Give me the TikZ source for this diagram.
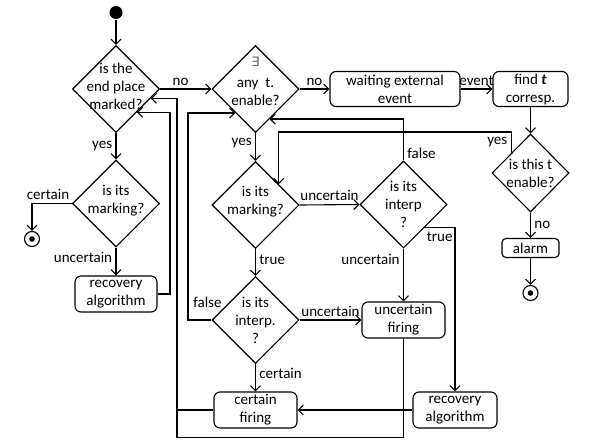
\documentclass[tikz,border=0pt]{standalone}
\usepackage{amsmath}
\usepackage{amssymb}
\usepackage{fontspec}
\setmainfont{Carlito}
\newfontfamily\symbolfont{DejaVu Sans}
\usetikzlibrary{shapes.geometric,arrows.meta}

\begin{document}
\begin{tikzpicture}[x=1pt,y=-1pt,line width=1.1pt,>={Straight Barb[length=5pt,width=10pt]}]
\tikzstyle{every node}=[font=\fontsize{15}{18}\selectfont,align=center]
\tikzstyle{decision}=[draw,diamond,inner sep=0pt,minimum width=87pt,minimum height=87pt]
\tikzstyle{activity}=[draw,rounded corners=6pt,inner sep=0pt,minimum height=36pt]
\tikzstyle{final}=[draw,circle,inner sep=0pt,minimum size=15pt,path picture={\fill (path picture bounding box.center) circle (2.8pt);}]

\useasboundingbox (0,0) rectangle (593,439);
\coordinate (bus1) at (170,0);
\coordinate (bus2) at (177,437.5);
\coordinate (bus3) at (188,0);
\coordinate (yesy) at (0,132);

\node[fill,circle,inner sep=0pt,minimum size=13pt] (start) at (116,12.5) {};
\node[decision] (d1) at (116,89) {};
\node (d1t) at ([yshift=3pt]d1.center) {is the\\end place\\marked?};
\node[decision] (d2) at (255.5,89) {};
\node (d2t) at ([yshift=8pt]d2.center) {{\color{black!60}\symbolfont\fontsize{13}{18}\selectfont ∃}\\[3pt]any\ \ t.\\enable?};
\node[activity,minimum width=130pt,minimum height=35pt] (b1) at (395,89) {waiting external\\event};
\node[activity,minimum width=75pt,minimum height=35pt] (b2) at (530.5,89) {find \textbf{\textit{t}}\\corresp.};
\node[decision,minimum width=77pt,minimum height=78pt] (d3) at (530.5,173) {};
\node (d3t) at (d3.center) {is this t\\enable?};
\node[activity,minimum width=57pt,minimum height=19pt,rounded corners=4pt] (alarm) at (530.5,248) {alarm};
\node[final] (endr) at (530.5,293) {};
\node[decision] (d4) at (116,203.5) {};
\node (d4t) at ([yshift=3pt]d4.center) {is its\\marking?};
\node[final] (endl) at (32,239) {};
\node[activity,minimum width=82pt] (rl) at (116,294) {recovery\\algorithm};
\node[decision] (d5) at (255.5,205) {};
\node (d5t) at ([yshift=3pt]d5.center) {is its\\marking?};
\node[decision] (d6) at (403.5,204.5) {};
\node (d6t) at (d6.center) {is its\\interp\\?};
\node[decision] (d7) at (255.5,320) {};
\node (d7t) at (d7.center) {is its\\interp.\\?};
\node[activity,minimum width=83pt] (uf) at (403.5,320) {uncertain\\firing};
\node[activity,minimum width=83pt] (cf) at (255.5,410) {certain\\firing};
\node[activity,minimum width=84pt] (rr) at (455,410) {recovery\\algorithm};

\draw[->] (start) -- (d1);
\draw[->] (d1.east) -- node[above,pos=0.4] {no} (d2.west);
\draw[->] (d1.south) -- node[left] {yes} (d4.north);
\draw[->] (d4.west) -| node[above,pos=0.3] {certain} (endl.north);
\draw[->] (d4.south) -- node[left,pos=0.35] {uncertain} (rl.north);
\draw[->] (rl.east) -- (rl.east -| bus1) |- (d1.-48);
\draw[->] (d2.east) -- node[above] {no} (b1.west);
\draw[->] (b1.east) -- node[above] {event} (b2.west);
\draw[->] (b2.south) -- (d3.north);
\draw[->] (d3.south) -- node[right] {no} (alarm.north);
\draw[->] (alarm.south) -- (endr.north);
\draw[->] (d3.134) -- node[left] {yes} (d3.134 |- yesy) -| (d5.42);
\draw[->] (d2.south) -- node[left,pos=0.35] {yes} (d5.north);
\draw[->] (d5.east) -- node[above] {uncertain} (d6.west);
\draw[->] (d5.south) -- node[right,pos=0.4] {true} (d7.north);
\draw[->] (d6.north) |- node[pos=0,above right,yshift=-2pt] {false} (d2.-65);
\draw[->] (d6.-48) -| node[below,pos=0.25] {true} (rr.north);
\draw[->] (d6.south) -- node[left,pos=0.2] {uncertain} (uf.north);
\draw[->] (d7.west) -- node[above left,pos=0,xshift=14pt,yshift=9pt] {false} (d7.west -| bus3) |- (d2.-130);
\draw[->] (d7.east) -- node[above] {uncertain} (uf.west);
\draw[->] (d7.south) -- node[right,pos=0.35] {certain} (cf.north);
\draw[->] (rr.west) -- (cf.east);
\draw[->] (uf.south) |- (bus2) |- (d1.-15);
\draw (cf.west) -- (cf.west -| bus2);
\end{tikzpicture}
\end{document}
